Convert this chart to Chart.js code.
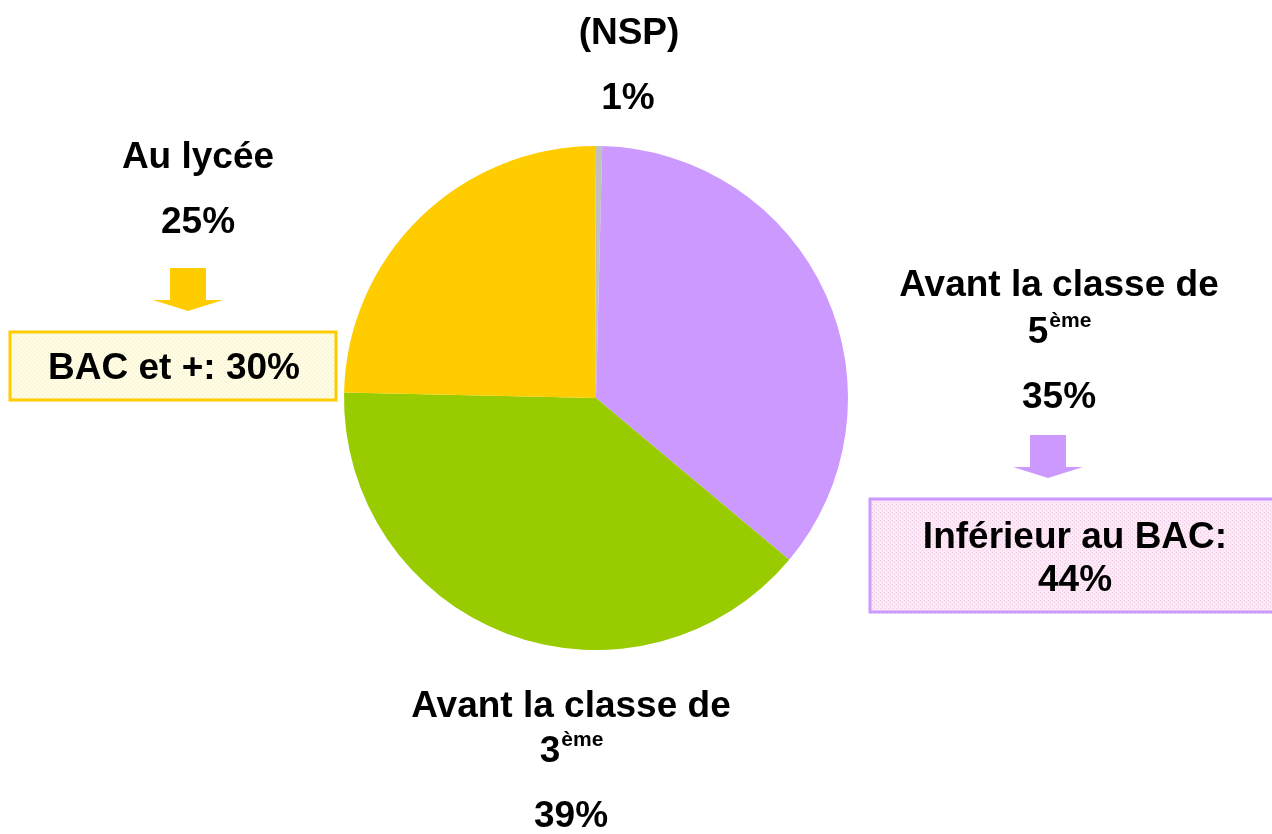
<!DOCTYPE html>
<html>
<head>
<meta charset="utf-8">
<script src="https://cdn.jsdelivr.net/npm/chart.js@4/dist/chart.umd.min.js"></script>
<style>
  body { margin: 0; background: #fff; }
  canvas { display: block; }
</style>
</head>
<body>
<canvas id="myChart" width="1272" height="834"></canvas>
<script>
const ctx = document.getElementById("myChart");

const categories = ["(NSP)", "Avant la classe de 5ème", "Avant la classe de 3ème", "Au lycée"];
const shares = [0.45, 35.7, 39.25, 24.6];
const shareLabels = ["1%", "35%", "39%", "25%"];
const sliceColors = ["#C0C0C0", "#CC99FF", "#99CC00", "#FFCC00"];
const groupLabels = ["BAC et +: 30%", "Inférieur au BAC:", "44%"];

const FONT = "bold 37px 'Liberation Sans', Arial, sans-serif";
const SUP = "bold 21px 'Liberation Sans', Arial, sans-serif";

function makePattern(c, bg, dot) {
  const p = document.createElement("canvas");
  p.width = 4;
  p.height = 4;
  const g = p.getContext("2d");
  g.fillStyle = bg;
  g.fillRect(0, 0, 4, 4);
  g.fillStyle = dot;
  g.fillRect(0, 0, 1, 1);
  g.fillRect(2, 2, 1, 1);
  return c.createPattern(p, "repeat");
}

function text(c, s, x, y) {
  c.font = FONT;
  c.fillText(s, x, y);
}

// base text + superscript, centred as a whole
function textSup(c, base, sup, x, y) {
  c.font = FONT;
  const w1 = c.measureText(base).width;
  c.font = SUP;
  const w2 = c.measureText(sup).width;
  const left = x - (w1 + w2) / 2;
  c.textAlign = "left";
  c.font = FONT;
  c.fillText(base, left, y);
  c.font = SUP;
  c.fillText(sup, left + w1 + 1, y - 12);
  c.textAlign = "center";
}

function arrow(c, cx, top, color) {
  c.fillStyle = color;
  c.beginPath();
  c.moveTo(cx - 18, top);
  c.lineTo(cx + 18, top);
  c.lineTo(cx + 18, top + 32);
  c.lineTo(cx + 35, top + 32);
  c.lineTo(cx, top + 43);
  c.lineTo(cx - 35, top + 32);
  c.lineTo(cx - 18, top + 32);
  c.closePath();
  c.fill();
}

function box(c, x, y, w, h, border, fill) {
  c.fillStyle = fill;
  c.fillRect(x, y, w, h);
  c.strokeStyle = border;
  c.lineWidth = 3;
  c.strokeRect(x, y, w, h);
}

const labelsPlugin = {
  id: "labelsPlugin",
  afterDraw(chart) {
    const c = chart.ctx;
    c.save();
    c.textAlign = "center";
    c.textBaseline = "middle";

    arrow(c, 188, 268, "#FFCC00");
    arrow(c, 1048, 435, "#CC99FF");
    box(c, 10, 332, 326, 68, "#FFCC00", makePattern(c, "#FFFCE6", "#F2EDC8"));
    box(c, 870, 499, 410, 113, "#CC99FF", makePattern(c, "#FBEAF6", "#F3C8E6"));

    c.fillStyle = "#000";
    text(c, categories[0], 629, 34);
    text(c, shareLabels[0], 628, 99);

    text(c, "Au lycée", 198, 158);
    text(c, shareLabels[3], 198, 223);

    text(c, "Avant la classe de", 1059, 286);
    textSup(c, "5", "ème", 1059, 333);
    text(c, shareLabels[1], 1059, 398);

    text(c, "Avant la classe de", 571, 707);
    textSup(c, "3", "ème", 571, 752);
    text(c, shareLabels[2], 571, 817);

    text(c, groupLabels[0], 174, 369);
    text(c, groupLabels[1], 1075, 538);
    text(c, groupLabels[2], 1075, 581);
    c.restore();
  },
};

new Chart(ctx, {
  type: "pie",
  data: {
    labels: categories,
    datasets: [
      {
        data: shares,
        backgroundColor: sliceColors,
        borderWidth: 0,
      },
    ],
  },
  options: {
    responsive: false,
    animation: false,
    rotation: -0.2,
    layout: {
      padding: { top: 146, bottom: 184, left: 344, right: 424 },
    },
    plugins: {
      legend: { display: false },
      tooltip: { enabled: false },
    },
  },
  plugins: [labelsPlugin],
});
</script>
</body>
</html>
